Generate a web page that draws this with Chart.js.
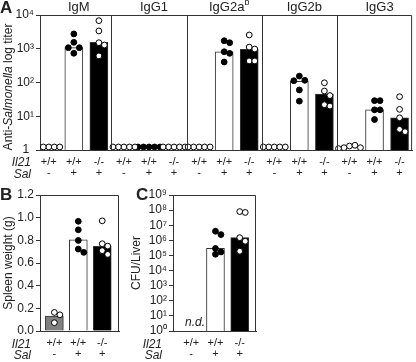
<!DOCTYPE html>
<html>
<head>
<meta charset="utf-8">
<script src="https://cdn.jsdelivr.net/npm/chart.js@4.4.1/dist/chart.umd.min.js"></script>
<style>
  body { margin: 0; background: #fff; font-family: 'Liberation Sans', Arial, sans-serif; color: #222; }
  #wrap { position: relative; width: 416px; height: 362px; overflow: hidden; }
  canvas { position: absolute; }
  .lbl { position: absolute; white-space: nowrap; line-height: 1; }
  .pan { font-weight: bold; font-size: 17px; }
  .row { font-style: italic; font-size: 12px; text-align: right; width: 40px; }
  .ytitle { font-size: 12px; text-align: center; height: 14px; line-height: 14px; transform: rotate(-90deg); }
</style>
</head>
<body>
<div id="wrap">
  <canvas id="chartA" width="416" height="182" style="left:0;top:0"></canvas>
  <canvas id="chartB" width="130" height="182" style="left:0;top:180px"></canvas>
  <canvas id="chartC" width="140" height="182" style="left:130px;top:180px"></canvas>

  <div class="lbl pan" style="left:0;top:-1px">A</div>
  <div class="lbl pan" style="left:0;top:186px">B</div>
  <div class="lbl pan" style="left:136px;top:186px">C</div>

  <div class="lbl ytitle" style="left:-72px;top:80px;width:160px">Anti-<i>Salmonella</i> log titer</div>
  <div class="lbl ytitle" style="left:-72px;top:256px;width:160px">Spleen weight (g)</div>
  <div class="lbl ytitle" style="left:56px;top:256px;width:160px">CFU/Liver</div>

  <div class="lbl row" style="left:-9px;top:156px">Il21</div>
  <div class="lbl row" style="left:-9px;top:168px">Sal</div>
  <div class="lbl row" style="left:-9px;top:338px">Il21</div>
  <div class="lbl row" style="left:-9px;top:349px">Sal</div>
  <div class="lbl row" style="left:122px;top:338px">Il21</div>
  <div class="lbl row" style="left:122px;top:349px">Sal</div>

  <div class="lbl" style="left:185px;top:316px;font-size:12px;font-style:italic">n.d.</div>
</div>

<script>
// groups on the x axis
const il21 = ['+/+', '+/+', '-/-'];
const sal = ['-', '+', '+'];

// Panel A: anti-Salmonella titers per isotype
const isotypes = ['IgM', 'IgG1', 'IgG2a', 'IgG2b', 'IgG3'];
const isotypeSup = ['', '', 'b', '', ''];
const titerTicks = ['1\u2009\u2009', '10\u00b9', '10\u00b2', '10\u00b3', '10\u2074'];
const titerBarWt = [1075, 1, 815, 108, 15.5];
const titerBarKo = [1550, 1, 960, 45, 9];
const titerNaive = [
  [1.23, 1.23, 1.23, 1.23, 1.23],
  [1.23, 1.23, 1.23, 1.23, 1.23],
  [1.23, 1.23, 1.23, 1.23, 1.23],
  [1.23, 1.23, 1.23, 1.23, 1.23],
  [1.31, 1.38, 1.17, 1.17, 1.1]
];
const titerWt = [
  [2750, 1550, 1075, 1075, 735],
  [1.23, 1.23, 1.23, 1.23, 1.23],
  [1730, 1510, 815, 730, 405],
  [155, 116, 113, 60, 28],
  [29, 29, 15.5, 15.5, 8]
];
const titerKo = [
  [6800, 3370, 1510, 1290, 615],
  [1.23, 1.23, 1.23, 1.23, 1.23],
  [2560, 1120, 980, 435, 435],
  [98, 56, 41, 22, 20],
  [38, 16, 9, 4.1, 3.5]
];

// Panel B: spleen weight (g)
const spleenTicks = ['0.0', '0.2', '0.4', '0.6', '0.8', '1.0', '1.2'];
const spleenBars = [0.132, 0.805, 0.746];
const spleenNaive = [0.164, 0.143, 0.073];
const spleenWt = [0.968, 0.893, 0.799, 0.723, 0.694];
const spleenKo = [0.972, 0.770, 0.749, 0.709, 0.676];

// Panel C: CFU per liver (naive not detected)
const cfuTicks = ['10\u2070', '10\u00b9', '10\u00b2', '10\u00b3', '10\u2074', '10\u2075', '10\u2076', '10\u2077', '10\u2078', '10\u2079'];
const cfuBars = [null, 3.0e5, 1.5e6];
const cfuWt = [4.0e6, 2.4e6, 2.9e5, 1.7e5, 1.2e5];
const cfuKo = [8.0e7, 7.0e7, 1.5e6, 8.7e5, 1.9e5];

const FONT = "'Liberation Sans', Arial, sans-serif";
const INK = '#333';

function pts(values, center) {
  return values.map(v => ({ x: center, y: v, cx: center }));
}

// spread overlapping dots sideways (simple beeswarm, in pixels)
function swarm(chart, d) {
  const xs = chart.scales.x, ys = chart.scales.y;
  const unit = xs.getPixelForValue(1) - xs.getPixelForValue(0);
  chart.data.datasets.forEach(ds => {
    if (ds.type !== 'scatter') return;
    const placed = {};
    ds.data.forEach(p => {
      const py = ys.getPixelForValue(p.y);
      const list = placed[p.cx] || (placed[p.cx] = []);
      let off = 0;
      for (let i = 0; i < 30; i++) {
        off = (i % 2 ? 1 : -1) * Math.ceil(i / 2) * d;
        if (list.every(q => Math.hypot(off - q.off, py - q.py) >= d - 0.01)) break;
      }
      list.push({ off, py });
      p.x = p.cx + off / unit;
    });
  });
  chart.update('none');
}

// top/right border of the plot area, plus panel separators
const frame = {
  id: 'frame',
  afterDraw(chart, args, opts) {
    const { ctx, chartArea: a } = chart;
    const xs = chart.scales.x;
    ctx.save();
    ctx.strokeStyle = INK;
    ctx.lineWidth = 1;
    ctx.beginPath();
    ctx.moveTo(a.left, a.top + 0.5);
    ctx.lineTo(a.right - 0.5, a.top + 0.5);
    ctx.lineTo(a.right - 0.5, a.bottom);
    (opts.seps || []).forEach(s => {
      const px = Math.round(xs.getPixelForValue(s)) + 0.5;
      ctx.moveTo(px, a.top);
      ctx.lineTo(px, a.bottom);
    });
    ctx.stroke();
    ctx.restore();
  }
};

const isoTitles = {
  id: 'isoTitles',
  afterDraw(chart) {
    const { ctx } = chart;
    const xs = chart.scales.x;
    ctx.save();
    ctx.fillStyle = '#222';
    ctx.textBaseline = 'middle';
    ctx.textAlign = 'left';
    isotypes.forEach((name, i) => {
      const cx = xs.getPixelForValue(3 * i + 1.2);
      ctx.font = '13px ' + FONT;
      const mw = ctx.measureText(name).width;
      ctx.font = '9px ' + FONT;
      const sw = isotypeSup[i] ? ctx.measureText(isotypeSup[i]).width : 0;
      const x0 = cx - (mw + sw) / 2;
      ctx.font = '13px ' + FONT;
      ctx.fillText(name, x0, 7);
      if (sw) {
        ctx.font = '9px ' + FONT;
        ctx.fillText(isotypeSup[i], x0 + mw, 3);
      }
    });
    ctx.restore();
  }
};

function xAxis(min, max, count, height) {
  const ticks = [];
  for (let i = 0; i < count; i++) ticks.push(i);
  return {
    type: 'linear', min, max, offset: false,
    afterBuildTicks: s => { s.ticks = ticks.map(v => ({ value: v })); },
    afterFit: s => { s.height = height; },
    ticks: {
      autoSkip: false, maxRotation: 0, padding: 6, color: '#222',
      font: { family: FONT, size: 11, lineHeight: 1.05 },
      callback: v => [il21[v % 3], sal[v % 3]]
    },
    grid: { display: false, drawTicks: false },
    border: { color: INK }
  };
}

function yAxis(cfg, width) {
  return Object.assign({
    afterFit: s => { s.width = width; },
    grid: { drawOnChartArea: false, drawTicks: true, tickLength: 4, color: INK },
    border: { color: INK }
  }, cfg);
}

function yTicks(labels) {
  return { autoSkip: false, color: '#222', padding: 2, font: { family: FONT, size: 12 }, callback: (v, i) => labels[i] };
}

const barStyle = { type: 'bar', grouped: false, barThickness: 18, borderColor: INK, borderWidth: 1, order: 2 };
const dotStyle = { type: 'scatter', pointRadius: 2.9, pointHoverRadius: 2.9, borderWidth: 1, borderColor: '#000', order: 1 };

const common = {
  responsive: false, animation: false, events: [],
  plugins: { legend: { display: false }, tooltip: { enabled: false } }
};

// ---------- Panel A ----------
const wtBarA = [], koBarA = [], filledA = [], openA = [];
isotypes.forEach((iso, i) => {
  const b = 3 * i;
  wtBarA.push({ x: b + 1, y: titerBarWt[i] });
  koBarA.push({ x: b + 2, y: titerBarKo[i] });
  openA.push(...pts(titerNaive[i], b));
  filledA.push(...pts(titerWt[i], b + 1));
  openA.push(...pts(titerKo[i], b + 2));
});

const chartA = new Chart(document.getElementById('chartA'), {
  type: 'bar',
  data: {
    datasets: [
      Object.assign({}, barStyle, { data: wtBarA, backgroundColor: '#fff' }),
      Object.assign({}, barStyle, { data: koBarA, backgroundColor: '#000' }),
      Object.assign({}, dotStyle, { data: filledA, backgroundColor: '#000' }),
      Object.assign({}, dotStyle, { data: openA, backgroundColor: '#fff', order: 0 })
    ]
  },
  options: Object.assign({}, common, {
    layout: { padding: { top: 15, right: 1, left: 0, bottom: 0 } },
    plugins: Object.assign({}, common.plugins, { frame: { seps: [2.5, 5.5, 8.5, 11.5] } }),
    scales: {
      x: xAxis(-0.35, 14.5, 15, 32),
      y: yAxis({
        type: 'logarithmic', min: 1, max: 1e4,
        afterBuildTicks: s => { s.ticks = [1, 10, 100, 1000, 10000].map(v => ({ value: v })); },
        ticks: yTicks(titerTicks)
      }, 40)
    }
  }),
  plugins: [frame, isoTitles]
});
swarm(chartA, 5.5);

// ---------- Panel B ----------
const chartB = new Chart(document.getElementById('chartB'), {
  type: 'bar',
  data: {
    datasets: [
      Object.assign({}, barStyle, {
        data: spleenBars.map((v, i) => ({ x: i, y: v })),
        backgroundColor: ['#808080', '#fff', '#000']
      }),
      Object.assign({}, dotStyle, { data: pts(spleenWt, 1), backgroundColor: '#000' }),
      Object.assign({}, dotStyle, { data: pts(spleenNaive, 0).concat(pts(spleenKo, 2)), backgroundColor: '#fff', order: 0 })
    ]
  },
  options: Object.assign({}, common, {
    layout: { padding: { top: 15, right: 11, left: 0, bottom: 0 } },
    scales: {
      x: xAxis(-0.6, 2.7, 3, 31),
      y: yAxis({
        type: 'linear', min: 0, max: 1.2,
        afterBuildTicks: s => { s.ticks = spleenTicks.map(t => ({ value: parseFloat(t) })); },
        ticks: yTicks(spleenTicks)
      }, 40)
    }
  }),
  plugins: [frame]
});
swarm(chartB, 5.5);

// ---------- Panel C ----------
const decades = cfuTicks.map((t, i) => Math.pow(10, i));

const chartC = new Chart(document.getElementById('chartC'), {
  type: 'bar',
  data: {
    datasets: [
      Object.assign({}, barStyle, {
        data: cfuBars.map((v, i) => ({ x: i, y: v })),
        backgroundColor: ['#808080', '#fff', '#000']
      }),
      Object.assign({}, dotStyle, { data: pts(cfuWt, 1), backgroundColor: '#000' }),
      Object.assign({}, dotStyle, { data: pts(cfuKo, 2), backgroundColor: '#fff', order: 0 })
    ]
  },
  options: Object.assign({}, common, {
    layout: { padding: { top: 15, right: 14, left: 0, bottom: 0 } },
    scales: {
      x: xAxis(-0.75, 2.67, 3, 31),
      y: yAxis({
        type: 'logarithmic', min: 1, max: 1e9,
        afterBuildTicks: s => { s.ticks = decades.map(v => ({ value: v })); },
        ticks: yTicks(cfuTicks)
      }, 43)
    }
  }),
  plugins: [frame]
});
swarm(chartC, 5.5);
</script>
</body>
</html>
